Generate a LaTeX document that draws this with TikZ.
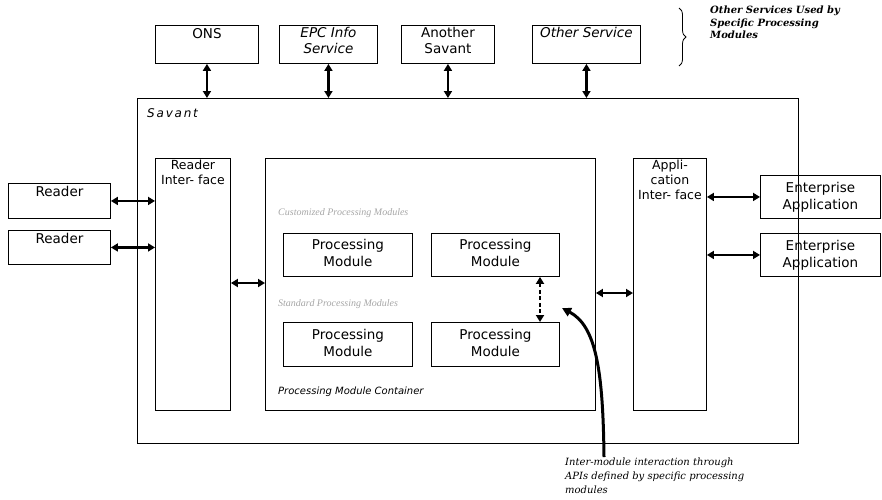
\documentclass[tikz,border=0pt]{standalone}
\usepackage{fontspec}
\setmainfont{Liberation Serif}
\setsansfont{DejaVu Sans}
\newfontfamily\spacedsans[LetterSpace=15]{DejaVu Sans}
\newfontfamily\notefont{DejaVu Serif}
\usetikzlibrary{arrows.meta,decorations.pathreplacing}
\begin{document}
\begin{tikzpicture}[x=1pt,y=-1pt,
  box/.style={draw,line width=0.9pt,anchor=north west,inner sep=0pt},
  lbl/.style={font=\sffamily\fontsize{13.5}{16.5}\selectfont,align=center,inner sep=0pt,anchor=north},
  clbl/.style={font=\sffamily\fontsize{13.5}{17}\selectfont,align=center,inner sep=0pt},
  ilbl/.style={font=\sffamily\fontsize{12.5}{15}\selectfont,align=center,inner sep=0pt,anchor=north},
  dbl/.style={{Triangle[length=7pt,width=8pt]}-{Triangle[length=7pt,width=8pt]},line width=2.5pt},
  note/.style={font=\notefont\itshape\fontsize{10}{14}\selectfont,align=left,anchor=north west,inner sep=0pt},
  faint/.style={font=\rmfamily\itshape\fontsize{10}{12}\selectfont,text=black!35,anchor=west,inner sep=0pt}]
\useasboundingbox (0,0) rectangle (882,499);

% top services
\node[box,minimum width=103pt,minimum height=38pt] (ons) at (155,25) {};
\node[lbl] at ([yshift=-3pt]ons.north) {ONS};
\node[box,minimum width=98pt,minimum height=38pt] (epc) at (279,25) {};
\node[lbl,font=\sffamily\itshape\fontsize{13.5}{16.5}\selectfont] at ([yshift=-2pt]epc.north) {EPC Info\\Service};
\node[box,minimum width=93pt,minimum height=38pt] (ans) at (401,25) {};
\node[lbl] at ([yshift=-2pt]ans.north) {Another\\Savant};
\node[box,minimum width=108pt,minimum height=38pt] (oth) at (532,25) {};
\node[lbl,font=\sffamily\itshape\fontsize{13.5}{16.5}\selectfont] at ([yshift=-2pt]oth.north) {Other Service};

\draw[decorate,decoration={brace,amplitude=7pt},line width=0.8pt] (679,8) -- (679,66);
\node[note,font=\notefont\bfseries\itshape\fontsize{10}{12.5}\selectfont] (osn) at (710,6) {Other Services Used by\\Specific Processing\\Modules};

% savant
\node[box,minimum width=661pt,minimum height=345pt] (sav) at (137,98) {};
\node[anchor=north west,font=\spacedsans\itshape\fontsize{12}{14}\selectfont,inner sep=0pt] (savl) at (147,108) {Savant};

\draw[dbl] (ons.south) -- (ons.south |- sav.north);
\draw[dbl] (epc.south) -- (epc.south |- sav.north);
\draw[dbl] (ans.south) -- (ans.south |- sav.north);
\draw[dbl] (oth.south) -- (oth.south |- sav.north);

% interfaces and container
\node[box,minimum width=75pt,minimum height=252pt] (ri) at (155,158) {};
\node[ilbl] at ([yshift=-2pt]ri.north) {Reader\\Inter- face};
\node[box,minimum width=330pt,minimum height=252pt] (cont) at (265,158) {};
\node[box,minimum width=73pt,minimum height=252pt] (ai) at (633,158) {};
\node[ilbl] at ([yshift=-2pt]ai.north) {Appli-\\cation\\Inter- face};

% readers
\node[box,minimum width=102pt,minimum height=35pt] (r1) at (8,183) {};
\node[lbl] at ([yshift=-3pt]r1.north) {Reader};
\node[box,minimum width=102pt,minimum height=34pt] (r2) at (8,230) {};
\node[lbl] at ([yshift=-3pt]r2.north) {Reader};
\draw[dbl] (r1.east) -- (r1.east -| ri.west);
\draw[dbl] (r2.east) -- (r2.east -| ri.west);

% enterprise applications
\node[box,minimum width=120pt,minimum height=43pt] (ea1) at (760,175) {};
\node[clbl] at (ea1.center) {Enterprise\\Application};
\node[box,minimum width=120pt,minimum height=43pt] (ea2) at (760,233) {};
\node[clbl] at (ea2.center) {Enterprise\\Application};
\draw[dbl] (ai.east |- ea1.west) -- (ea1.west);
\draw[dbl] (ai.east |- ea2.west) -- (ea2.west);

\coordinate (ya) at (0,283);
\coordinate (yb) at (0,293);
\draw[dbl] (ri.east |- ya) -- (cont.west |- ya);
\draw[dbl] (cont.east |- yb) -- (ai.west |- yb);

% processing modules
\node[faint] (fl1) at (278,213) {Customized Processing Modules};
\node[faint] (fl2) at (278,304) {Standard Processing Modules};
\node[box,minimum width=129pt,minimum height=43pt] (pm1) at (283,233) {};
\node[clbl] at ([yshift=1.5pt]pm1.center) {Processing\\Module};
\node[box,minimum width=128pt,minimum height=43pt] (pm2) at (431,233) {};
\node[clbl] at ([yshift=1.5pt]pm2.center) {Processing\\Module};
\node[box,minimum width=129pt,minimum height=44pt] (pm3) at (283,322) {};
\node[clbl] at ([yshift=1.5pt]pm3.center) {Processing\\Module};
\node[box,minimum width=128pt,minimum height=44pt] (pm4) at (431,322) {};
\node[clbl] at ([yshift=1.5pt]pm4.center) {Processing\\Module};

\coordinate (dx) at (540,0);
\draw[dbl,dash pattern=on 4pt off 2.5pt] (pm2.south -| dx) -- (pm4.north -| dx);

\node[anchor=west,font=\sffamily\itshape\fontsize{10}{12}\selectfont,inner sep=0pt] (pmc) at (278,392) {Processing Module Container};

% annotation arrow
\coordinate (cs) at (604,457);
\coordinate (ce) at (562,308);
\draw[line width=3pt,-{Triangle[length=9pt,width=9pt]}] (cs) .. controls (603,370) and (596,326) .. (ce);
\node[note] (ann) at (565,458) {Inter-module interaction through\\APIs defined by specific processing\\modules};
\end{tikzpicture}
\end{document}
